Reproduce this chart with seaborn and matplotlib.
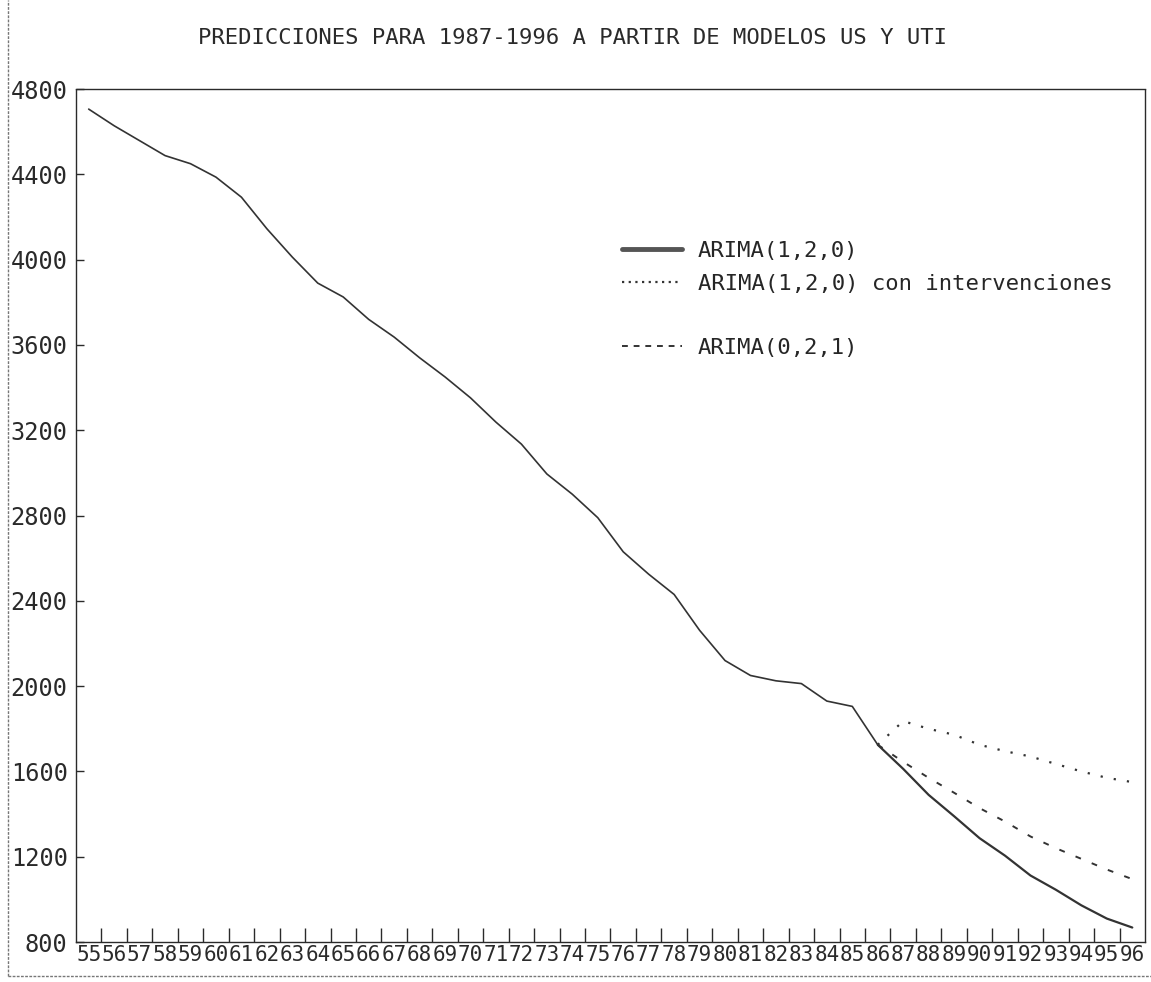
import matplotlib
matplotlib.use("Agg")
import matplotlib.pyplot as plt
from matplotlib.lines import Line2D
import seaborn as sns
import pandas as pd

# ---------- DATA ----------
years_hist = list(range(55, 87))
values_hist = [4706, 4628, 4558, 4488, 4450, 4387, 4293, 4145, 4012, 3890,
               3825, 3720, 3637, 3540, 3450, 3352, 3238, 3135, 2995, 2900,
               2790, 2630, 2525, 2430, 2262, 2120, 2050, 2025, 2012, 1930,
               1905, 1725]

years_pred = list(range(86, 97))
arima120 = [1725, 1612, 1490, 1390, 1287, 1205, 1112, 1045, 972, 910, 868]
arima120_int = [1725, 1836, 1800, 1772, 1725, 1695, 1670, 1635, 1600, 1570, 1550]
arima021 = [1725, 1645, 1570, 1500, 1428, 1365, 1295, 1240, 1190, 1140, 1095]

year_labels = [str(y) for y in range(55, 97)]
y_ticks = [800, 1200, 1600, 2000, 2400, 2800, 3200, 3600, 4000, 4400, 4800]

title = "PREDICCIONES PARA 1987-1996 A PARTIR DE MODELOS US Y UTI"
names = ["ARIMA(1,2,0)", "ARIMA(1,2,0) con intervenciones", "ARIMA(0,2,1)"]

# ---------- STYLE ----------
sns.set_style("white")
plt.rcParams["font.family"] = ["DejaVu Sans Mono"]
ink = "#2a2a2a"
line_ink = "#333333"

fig = plt.figure(figsize=(11.51, 9.82), dpi=100)
ax = fig.add_axes([0.066, 0.0407, 0.9288, 0.8686])

df_hist = pd.DataFrame({"year": years_hist, "value": values_hist})
df_pred = pd.DataFrame({"year": years_pred, "a120": arima120,
                        "a120i": arima120_int, "a021": arima021})

sns.lineplot(data=df_hist, x="year", y="value", ax=ax, color=line_ink, lw=1.2)
sns.lineplot(data=df_pred, x="year", y="a120", ax=ax, color=line_ink, lw=1.6)
sns.lineplot(data=df_pred, x="year", y="a120i", ax=ax, color=line_ink, lw=1.6,
             ls=(0, (1, 5)))
sns.lineplot(data=df_pred, x="year", y="a021", ax=ax, color=line_ink, lw=1.4,
             ls=(0, (3, 6)))

# ---------- AXES ----------
ax.set_xlim(54.5, 96.5)
ax.set_ylim(800, 4800)
ax.set_xlabel("")
ax.set_ylabel("")
ax.set_xticks(range(55, 97))
ax.set_xticklabels(year_labels, fontsize=15)
ax.set_xticks([y + 0.5 for y in range(55, 96)], minor=True)
ax.tick_params(axis="x", which="major", length=0, pad=2, colors=ink)
ax.tick_params(axis="x", which="minor", direction="in", length=10,
               width=1, color=ink, bottom=True)
ax.set_yticks(y_ticks)
ax.set_yticklabels([str(v) for v in y_ticks], fontsize=17)
ax.tick_params(axis="y", direction="in", length=6, width=1, pad=6,
               colors=ink, left=True)
for s in ax.spines.values():
    s.set_visible(True)
    s.set_color(ink)
    s.set_linewidth(1)
    s.set_linestyle((0, (2, 1)))

# ---------- LEGEND ----------
h = [Line2D([], [], color="#555555", lw=3.5),
     Line2D([], [], color=line_ink, lw=1.6, ls=(0, (1, 2))),
     Line2D([], [], color=line_ink, lw=1.4, ls=(0, (3, 3)))]
leg1 = ax.legend(h[:2], names[:2], loc="upper left",
                 bbox_to_anchor=(0.511, 0.822), frameon=False, fontsize=16,
                 handlelength=2.7, handletextpad=0.7, borderpad=0,
                 borderaxespad=0, labelspacing=0.6)
ax.add_artist(leg1)
ax.legend(h[2:], names[2:], loc="upper left",
          bbox_to_anchor=(0.511, 0.708), frameon=False, fontsize=16,
          handlelength=2.7, handletextpad=0.7, borderpad=0, borderaxespad=0)

# ---------- TITLE & FRAME ----------
fig.text(0.497, 1 - 38 / 982, title, ha="center", va="center",
         fontsize=16, color=ink)
fig.add_artist(Line2D([8 / 1151, 8 / 1151], [1 - 976 / 982, 1.0],
                      transform=fig.transFigure, color="#777", lw=1,
                      ls=(0, (2, 1))))
fig.add_artist(Line2D([8 / 1151, 1.0], [1 - 976 / 982, 1 - 976 / 982],
                      transform=fig.transFigure, color="#777", lw=1,
                      ls=(0, (2, 1))))

fig.savefig("out.png", dpi=100)
